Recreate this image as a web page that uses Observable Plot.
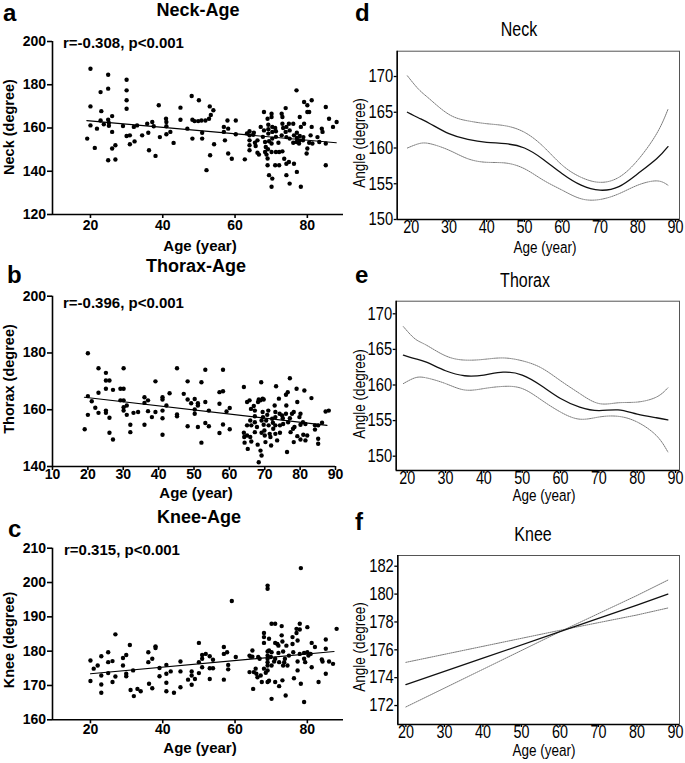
<!DOCTYPE html>
<html><head><meta charset="utf-8">
<script src="https://cdn.jsdelivr.net/npm/d3@7"></script>
<script src="https://cdn.jsdelivr.net/npm/@observablehq/plot@0.6"></script>
<style>
body{margin:0;background:#fff;}
#fig{position:relative;width:685px;height:763px;overflow:hidden;background:#fff;}
#fig svg{position:absolute;}
</style></head><body><div id="fig"></div><script>
// ---------- DATA ----------
const neckPoints = [[19.1,155.1],[20,187.4],[20,170],[20,161.2],[21.2,150.8],[21.8,159.7],[22.8,176.6],[22.8,163.5],[23,167.8],[23.7,161.7],[24.9,184.6],[24.9,178.2],[24.9,163.8],[25.1,162.3],[25.1,161],[24.9,145.1],[26,165.5],[26,158.2],[26,150.5],[26.9,152],[26.9,145.4],[29,160.9],[30,182.3],[30,177.4],[30,172.8],[30,168.9],[30,156.3],[30.9,156.6],[30.9,152.5],[32,160.5],[32.2,153.8],[32.9,161.2],[34.3,156.6],[35.7,162],[36,157.8],[36.2,149.7],[37.1,162.8],[37.5,160.8],[38,147.1],[38.9,170.5],[39.2,155.8],[40.9,164.3],[41,162.8],[41,160.8],[41,157.1],[42.1,158.2],[43,153.1],[44.9,169.4],[44.9,163.8],[46.8,159.7],[48,174.8],[48.2,163.8],[48.2,155.1],[48.8,163.2],[49.8,163.2],[50,172.8],[50.7,163.5],[50.9,157.8],[50.9,155.1],[51.8,163.5],[52.1,140.5],[52.8,164.3],[53,170],[53.1,147.4],[53.3,166],[54,168.2],[54.2,152.5],[56.9,160.5],[56.9,158.2],[57.2,154.3],[57.9,163.5],[58.1,159.7],[58.1,148.2],[59.1,145.8],[60.2,163.5],[60.2,157.1],[62.7,145.5],[63.3,157.5],
[64.0,158.5],[64.0,156.6],[64.0,154.3],[64.0,152.0],[64.0,149.7],[65.0,156.9],[65.2,157.8],[65.5,153.2],[65.7,151.7],[66.2,154.3],[66.2,148.6],[67.1,160.5],[66.6,147.7],[68.0,167.4],[68.0,158.9],[67.7,155.9],[68.3,153.5],[68.5,151.2],[68.3,148.9],[68.7,147.7],[69.0,164.3],[69.2,161.5],[69.2,159.4],[69.2,157.4],[69.4,153.9],[69.1,150.2],[69.0,145.9],[69.0,142.8],[69.4,138.2],[70.1,166.6],[70.1,165.1],[70.3,160.5],[70.3,158.2],[70.3,155.1],[70.1,152.8],[70.1,148.9],[70.3,136.6],[70.1,132.8],[71.1,160.0],[71.3,158.5],[71.3,155.9],[71.3,148.9],[71.1,142.8],[72.0,153.2],[72.2,148.9],[72.2,142.8],[72.9,166.6],[73.1,165.1],[73.1,162.0],[73.3,160.0],[72.9,156.6],[73.1,149.2],[73.6,145.8],[74.0,169.2],[74.2,160.5],[74.0,158.2],[74.2,155.8],[74.2,143.5],[74.2,138.2],[74.9,162.0],[75.1,158.9],[75.1,155.1],[74.9,144.3],[75.1,134.3],[76.1,162.0],[76.3,156.6],[76.1,153.2],[76.3,143.5],[77.0,177.4],[77.1,157.8],[77.1,155.4],[77.0,153.5],[77.1,139.7],[77.9,165.1],[78.2,160.5],[77.9,156.3],[77.9,154.3],[77.7,152.8],[78.2,132.8],[79.1,172.0],[79.1,162.0],[78.9,155.8],[78.8,154.3],[80.0,170.5],[80.0,167.4],[80.0,150.5],[79.8,148.2],[80.5,167.4],[80.5,153.2],[80.9,156.6],[81.2,172.8],[81.2,160.5],[81.4,152.8],[82.8,155.8],[83.3,153.5],[84.0,159.7],[84.2,158.2],[85.1,169.7],[85.1,152.8],[85.1,142.8],[86.0,164.3],[87.1,160.5],[88.1,162.8]];

const thoraxPoints = [[19.1,153.1],[20,179.9],[20,164.8],[20,158.2],[21.1,163],[22.1,160.7],[23,174.6],[23,166],[23,158.9],[25.1,173],[25.1,170.3],[25.1,167.4],[25.1,159.7],[25.1,158.9],[26.1,170.3],[26.1,157.2],[26.1,151.9],[27.1,167],[27.1,149.5],[29.2,167.4],[29.2,163.3],[30.1,174.6],[30.1,167.4],[30.1,163.3],[30.1,160.9],[30.1,159.7],[31,161.5],[31,158.2],[32,154.7],[32,152.1],[32.9,158.9],[34.2,159.2],[36,164.4],[36,162.4],[36,154.7],[37,163.3],[37,159.5],[38.1,157.4],[39.1,170],[39.1,159.2],[41.1,164.4],[41.1,163.6],[41.1,159.7],[41.1,157],[41.1,151.2],[42.2,161.5],[43.1,165.8],[45.2,174.6],[45.2,158.3],[45.2,157.7],[47.1,165.6],[48.2,163.6],[48.2,170],[48.2,154.2],[49.2,162.3],[50.2,163.8],[50.2,160.1],[50.2,158.6],[51.1,162.3],[51.1,161.5],[51.1,153.9],[52.1,169.7],[52.1,148.4],[53.2,174.1],[53.2,162.7],[53.2,155.3],[54.2,159.7],[54.2,154.2],[57.2,162.1],[57.2,166.2],[57.2,151.8],[58.2,174.1],[58.2,166.5],[58.2,154.8],[59.2,159.4],[60.1,160.6],[60.1,153.1],
[64.1,168.0],[64.1,151.9],[64.2,150.4],[64.3,148.4],[65.0,162.7],[65.0,154.5],[65.0,150.9],[65.2,146.2],[65.7,163.3],[65.9,156.2],[66.1,160.3],[66.2,154.5],[65.9,150.4],[66.2,148.8],[66.9,161.3],[67.2,159.7],[67.2,157.7],[67.2,155.6],[67.2,152.1],[67.8,153.9],[68.0,147.7],[68.1,162.7],[68.3,163.6],[68.8,163.3],[69.0,169.7],[69.1,151.9],[69.1,156.2],[68.8,145.6],[69.1,143.9],[68.3,141.5],[69.4,163.9],[69.7,163.6],[69.4,159.2],[69.5,157.4],[69.7,154.7],[69.9,152.7],[70.0,150.9],[70.2,148.6],[70.4,156.2],[70.7,158.2],[71.0,159.7],[71.1,154.5],[71.4,151.5],[71.6,150.4],[71.8,147.4],[72.1,156.8],[72.3,155.4],[72.4,153.3],[72.8,161.5],[73.0,159.2],[73.0,157.4],[73.0,154.5],[73.0,151.5],[73.2,168.3],[73.5,149.2],[74.0,163.9],[74.2,158.6],[74.3,154.5],[74.3,151.9],[74.9,158.0],[75.1,157.0],[75.2,155.0],[76.0,165.3],[76.1,161.5],[76.0,158.6],[76.3,145.1],[76.5,166.2],[76.6,155.6],[77.1,171.1],[77.1,157.0],[77.3,152.1],[77.7,158.6],[78.0,153.3],[78.2,159.2],[78.2,148.6],[78.4,153.9],[79.0,167.4],[79.2,162.7],[79.2,150.7],[79.8,157.4],[80.1,158.6],[80.1,154.7],[80.1,149.5],[80.8,155.6],[80.9,151.2],[81.2,166.8],[81.5,155.0],[81.5,149.2],[82.0,150.9],[83.2,164.1],[84.2,154.5],[84.2,153.0],[85.1,154.5],[85.1,149.8],[85.1,148.0],[86.2,155.4],[87.2,159.4],[88.1,159.7]];

const kneePoints = [[20,177.3],[20,171.3],[20.9,174.9],[22,175.8],[23,178.5],[23,172.9],[23,170.3],[23,167.9],[24.9,176.8],[24.9,179.7],[24.9,173.6],[26.1,177.1],[26.1,171],[26.9,184.9],[26.9,172.6],[29,178],[29,175.8],[29.9,178.9],[29.9,173.4],[29.9,172.7],[30.9,181.8],[31.1,168.7],[31.8,174.4],[32,166.9],[33,169],[33.9,168.3],[36,179.7],[36,176.8],[36.2,170.5],[37.1,177.8],[37.1,169.2],[38,180.9],[38,181.4],[39.1,172.7],[39.1,175.1],[41,173.4],[41,176],[41,170.8],[41,168.3],[42.2,174.1],[43.1,167.9],[44.9,177],[44.9,174.1],[44.9,169.5],[47,171.7],[48,174.1],[48,172.9],[48,170.2],[48.9,171.9],[50,182.4],[50,173.6],[50,176.8],[50.9,177.8],[50.9,178.9],[50.9,175.3],[51.9,179.2],[53,178.5],[53,171.9],[53,175],[53.9,177.5],[53.9,175],[56.9,181.2],[56.9,179.2],[56.9,171.7],[57.8,179.7],[58.1,176],[58.1,174.7],[59.1,194.6],[60.2,178.3],
[64.0,178.7],[64.0,173.9],[64.3,178.4],[64.8,180.2],[64.8,178.4],[65.0,169.0],[65.2,173.9],[65.7,174.9],[65.9,173.4],[66.2,172.4],[66.4,178.3],[66.8,177.8],[67.1,172.9],[67.4,171.0],[68.0,185.3],[68.0,184.1],[68.0,182.4],[68.0,174.9],[68.5,173.7],[69.0,199.1],[69.0,198.2],[69.0,179.9],[69.0,178.7],[69.0,177.8],[69.0,176.8],[69.0,175.8],[69.0,174.4],[69.0,171.0],[69.4,183.6],[69.4,180.2],[69.4,171.4],[70.1,188.0],[70.1,175.8],[70.1,166.1],[70.1,179.7],[69.9,178.3],[71.1,188.0],[71.1,182.4],[71.1,171.0],[71.1,177.8],[70.8,177.0],[71.7,182.1],[72.0,181.6],[72.0,179.5],[72.2,176.8],[72.2,169.8],[72.9,187.3],[72.9,184.6],[73.1,182.8],[73.3,179.9],[73.3,175.8],[73.6,176.8],[73.1,171.5],[73.8,177.8],[74.0,167.1],[74.2,181.6],[74.5,175.8],[74.9,178.7],[75.9,184.1],[75.9,182.1],[76.1,179.7],[76.3,172.1],[77.0,186.5],[77.0,185.3],[77.3,183.1],[77.3,177.0],[77.3,174.4],[77.9,188.0],[78.2,204.2],[77.9,186.3],[77.9,179.2],[78.2,170.5],[79.1,179.5],[79.1,177.8],[79.1,165.2],[79.4,176.8],[80.0,187.0],[80.0,179.7],[80.3,178.7],[80.9,179.2],[81.2,182.4],[81.2,175.3],[82.1,181.2],[83.1,171.0],[84.0,177.6],[84.2,177.0],[85.1,183.4],[85.1,180.7],[85.1,173.4],[86.0,177.0],[87.1,176.3],[88.1,186.5]];

// fitted regression lines
const neckFitAge = [19, 88],   neckFitVal = [163.4, 153.2];
const thoraxFitAge = [19, 87.6], thoraxFitVal = [164.4, 154.5];
const kneeFitAge = [20, 87.4], kneeFitVal = [173.4, 179.9];

// smoothed age curves with bounds (panels d, e)
const curveAges   = [19,22,25,30,35,40,45,50,55,60,65,70,75,80,85,88];
const neckMean    = [165.0,164.2,163.4,162.0,161.2,160.8,160.6,160.0,158.4,156.4,154.8,154.1,154.6,156.4,158.5,160.2];
const neckUpper   = [170.1,168.2,166.8,164.7,163.8,163.4,163.1,162.2,160.2,157.6,155.9,155.2,155.9,158.3,162.0,165.4];
const neckLower   = [160.0,160.6,160.6,159.7,158.5,158.0,157.9,157.1,155.5,154.1,152.9,152.8,153.6,154.8,155.4,154.8];
const thoraxMean  = [164.2,163.7,163.2,162.0,161.3,161.4,161.8,161.4,159.9,158.1,156.9,156.4,156.5,155.9,155.4,155.1];
const thoraxUpper = [168.2,166.5,165.6,164.1,163.5,163.6,163.8,163.4,162.4,160.6,158.8,157.4,157.5,157.6,158.3,159.6];
const thoraxLower = [160.2,161.0,161.0,160.2,159.3,159.5,159.8,159.5,157.9,156.2,155.2,155.5,155.6,154.8,152.9,150.6];
// panel f (linear)
const kneeAges  = [20,40,60,80,88];
const kneeMean  = [173.5,175.4,177.3,179.2,180.0];
const kneeBandA = [175.1,176.25,177.4,178.5,179.0];
const kneeBandB = [171.9,174.6,177.3,179.9,181.0];

// ticks
const neckYTicks = [120,140,160,180,200];
const thoraxYTicks = [140,160,180,200];
const kneeYTicks = [160,170,180,190,200,210];
const ageTicksAC = [20,40,60,80];
const ageTicksB = [10,20,30,40,50,60,70,80,90];
const ageTicksDEF = [20,30,40,50,60,70,80,90];
const angleTicksDE = [150,155,160,165,170];
const angleTicksF = [172,174,176,178,180,182];

// ---------- DRAW ----------
const BOLD = '"Liberation Sans", Arial, Helvetica, sans-serif';
const NARROW = '"Liberation Sans", Arial, sans-serif'; // condensed horizontally below
const SX = 0.82;
const fig = document.getElementById("fig");

function place(svg, left, top) {
  svg.style.left = left + "px"; svg.style.top = top + "px";
  fig.appendChild(svg);
}

function condense(svg) {
  svg.querySelectorAll("text").forEach(t => {
    const tr = t.getAttribute("transform");
    if (tr) t.setAttribute("transform", tr + ` scale(${SX},1)`);
    else {
      const x = +(t.getAttribute("x") || 0), y = +(t.getAttribute("y") || 0);
      t.removeAttribute("x"); t.removeAttribute("y");
      t.setAttribute("transform", `translate(${x},${y}) scale(${SX},1)`);
    }
  });
}

function scatterPanel(c) {
  const fit = c.fitAge.map((a, i) => ({age: a, val: c.fitVal[i]}));
  const svg = Plot.plot({
    width: c.w, height: c.h,
    marginLeft: c.ml, marginRight: c.mr, marginTop: c.mt, marginBottom: c.mb,
    x: {domain: c.xd, axis: null}, y: {domain: c.yd, axis: null},
    style: {background: "transparent", overflow: "visible", fontFamily: BOLD},
    marks: [
      Plot.dot(c.pts, {x: d => d[0], y: d => d[1], r: 2.2, fill: "#000", stroke: "none"}),
      Plot.line(fit, {x: "age", y: "val", stroke: "#000", strokeWidth: 1.1}),
      Plot.ruleX([c.xd[0]], {stroke: "#000", strokeWidth: 1.6}),
      Plot.ruleY([c.yd[0]], {stroke: "#000", strokeWidth: 1.6}),
      Plot.axisY(c.yt, {tickSize: 5, tickPadding: 1.5, strokeWidth: 1.6, fontSize: 14, fontWeight: "bold", fontFamily: BOLD, label: null}),
      Plot.axisX(c.xt, {tickSize: 4, tickPadding: c.xpad, strokeWidth: 1.6, fontSize: 14, fontWeight: "bold", fontFamily: BOLD, label: null})
    ]
  });
  place(svg, c.left, c.top);
}

function curvePanel(c) {
  const svg = Plot.plot({
    width: c.w, height: c.h,
    marginLeft: c.ml, marginRight: c.mr, marginTop: c.mt, marginBottom: c.mb,
    x: {domain: c.xd, axis: null}, y: {domain: c.yd, axis: null},
    style: {background: "transparent", overflow: "visible", fontFamily: NARROW},
    marks: [
      Plot.frame({stroke: "#555", strokeWidth: 1}),
      Plot.line(c.ages, {x: d => d, y: (d, i) => c.up[i], curve: c.curve, stroke: "#7a7a7a", strokeWidth: 1, strokeDasharray: "1.2,1"}),
      Plot.line(c.ages, {x: d => d, y: (d, i) => c.lo[i], curve: c.curve, stroke: "#7a7a7a", strokeWidth: 1, strokeDasharray: "1.2,1"}),
      Plot.line(c.ages, {x: d => d, y: (d, i) => c.mean[i], curve: c.curve, stroke: "#111", strokeWidth: 1.3}),
      Plot.ruleX([c.xd[0]], {stroke: "#000", strokeWidth: 1.5}),
      Plot.ruleY([c.yd[0]], {stroke: "#000", strokeWidth: 1.5}),
      Plot.axisY(c.yt, {tickSize: 3, tickPadding: 1, strokeWidth: 1.3, fontSize: 18, fontFamily: NARROW, label: null}),
      Plot.axisX(c.xt, {tickSize: 3, tickPadding: -2, strokeWidth: 1.3, fontSize: 17.5, fontFamily: NARROW, label: null})
    ]
  });
  condense(svg);
  place(svg, c.left, c.top);
}

scatterPanel({pts: neckPoints, fitAge: neckFitAge, fitVal: neckFitVal, left: 0, top: 0, w: 345, h: 265,
  ml: 52, mr: 2, mt: 41, mb: 51, xd: [9.5, 90], yd: [120, 200], xt: ageTicksAC, yt: neckYTicks, xpad: 2});
scatterPanel({pts: thoraxPoints, fitAge: thoraxFitAge, fitVal: thoraxFitVal, left: 0, top: 250, w: 345, h: 260,
  ml: 52, mr: 10, mt: 45.7, mb: 44, xd: [10, 90], yd: [140, 200], xt: ageTicksB, yt: thoraxYTicks, xpad: -1});
scatterPanel({pts: kneePoints, fitAge: kneeFitAge, fitVal: kneeFitVal, left: 0, top: 505, w: 345, h: 258,
  ml: 52, mr: 2, mt: 42.7, mb: 43.7, xd: [9.5, 90], yd: [160, 210], xt: ageTicksAC, yt: kneeYTicks, xpad: 0});

curvePanel({ages: curveAges, mean: neckMean, up: neckUpper, lo: neckLower, curve: "natural", left: 345, top: 0, w: 340, h: 250,
  ml: 51.7, mr: 6, mt: 50.7, mb: 31, xd: [16.3, 91.06], yd: [150, 173.54], xt: ageTicksDEF, yt: angleTicksDE});
curvePanel({ages: curveAges, mean: thoraxMean, up: thoraxUpper, lo: thoraxLower, curve: "natural", left: 345, top: 250, w: 340, h: 255,
  ml: 50.7, mr: 6, mt: 50.7, mb: 35, xd: [17.13, 91.04], yd: [147.99, 171.77], xt: ageTicksDEF, yt: angleTicksDE});
curvePanel({ages: kneeAges, mean: kneeMean, up: kneeBandA, lo: kneeBandB, curve: "linear", left: 345, top: 505, w: 340, h: 258,
  ml: 52.3, mr: 6, mt: 50, mb: 39, xd: [17.9, 91.04], yd: [170.64, 182.77], xt: ageTicksDEF, yt: angleTicksF});

// ---------- TEXT OVERLAY ----------
const ov = d3.select(fig).append("svg").attr("width", 685).attr("height", 763)
  .style("left", "0px").style("top", "0px").style("pointer-events", "none");
function txt(x, y, s, o = {}) {
  const t = ov.append("text").text(s)
    .attr("font-family", o.family || BOLD).attr("font-size", o.size || 15)
    .attr("font-weight", o.weight || "bold").attr("text-anchor", o.anchor || "start").attr("fill", "#000");
  const sx = o.sx || 1;
  const tr = `translate(${x},${y})` + (o.rotate ? " rotate(-90)" : "") + (sx !== 1 ? ` scale(${sx},1)` : "");
  t.attr("transform", tr);
  return t;
}
// panel letters
txt(3, 21, "a", {size: 24}); txt(7, 283, "b", {size: 24}); txt(8, 537, "c", {size: 24});
txt(355, 21, "d", {size: 24}); txt(355, 283, "e", {size: 24}); txt(355, 530, "f", {size: 24});
// scatter titles
txt(198, 16, "Neck-Age", {size: 18, anchor: "middle"});
txt(196, 272, "Thorax-Age", {size: 18, anchor: "middle"});
txt(199, 523, "Knee-Age", {size: 18, anchor: "middle"});
// correlation notes
txt(63, 48, "r=-0.308, p<0.001", {size: 15});
txt(63, 308, "r=-0.396, p<0.001", {size: 15});
txt(64, 555, "r=0.315, p<0.001", {size: 15});
// scatter axis titles
txt(200, 251, "Age (year)", {size: 15, anchor: "middle"});
txt(196, 498, "Age (year)", {size: 15, anchor: "middle"});
txt(200, 753, "Age (year)", {size: 15, anchor: "middle"});
txt(14, 127, "Neck (degree)", {size: 14.5, anchor: "middle", rotate: true});
txt(14, 379, "Thorax (degree)", {size: 14.5, anchor: "middle", rotate: true});
txt(14, 640, "Knee (degree)", {size: 14.5, anchor: "middle", rotate: true});
// curve panels (narrow style)
const N = {family: NARROW, weight: "normal", sx: SX};
txt(519, 36, "Neck", {...N, size: 19.5, anchor: "middle"});
txt(525, 287, "Thorax", {...N, size: 19.5, anchor: "middle"});
txt(533, 541, "Knee", {...N, size: 19.5, anchor: "middle"});
txt(545, 253, "Age (year)", {...N, size: 16.5, anchor: "middle"});
txt(544, 501, "Age (year)", {...N, size: 16.5, anchor: "middle"});
txt(544, 756, "Age (year)", {...N, size: 16.5, anchor: "middle"});
txt(365, 143, "Angle (degree)", {...N, size: 16.5, anchor: "middle", rotate: true});
txt(365, 394, "Angle (degree)", {...N, size: 16.5, anchor: "middle", rotate: true});
txt(365, 647, "Angle (degree)", {...N, size: 16.5, anchor: "middle", rotate: true});
</script></body></html>
